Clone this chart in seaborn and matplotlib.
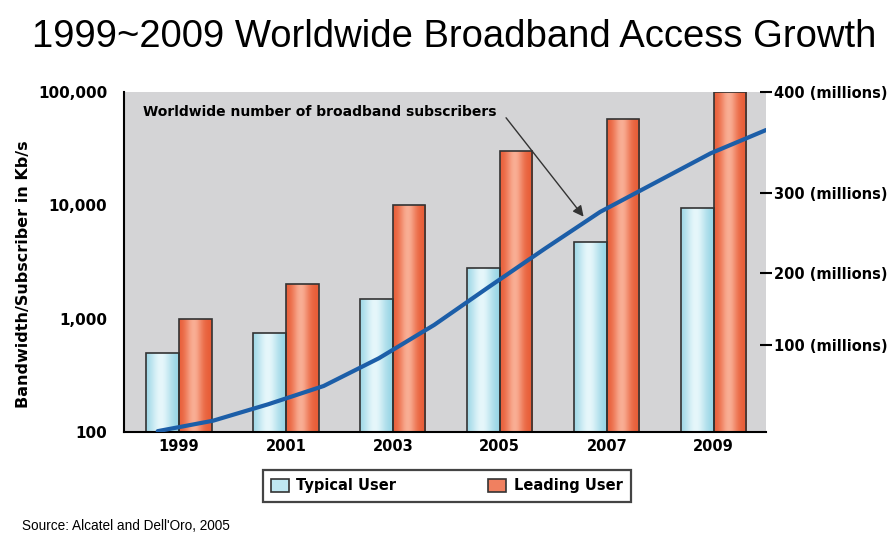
import numpy as np
import pandas as pd
import matplotlib
matplotlib.use("Agg")
import matplotlib.pyplot as plt
import matplotlib.colors as mcolors
from matplotlib.patches import Patch
from matplotlib.ticker import FixedLocator, FuncFormatter, NullLocator
import seaborn as sns

# ---- data -------------------------------------------------------------
years = ["1999", "2001", "2003", "2005", "2007", "2009"]
typical_kbps = [500, 750, 1500, 2800, 4700, 9500]
leading_kbps = [1000, 2000, 10000, 30000, 57000, 100000]

sub_years = [1999, 2000, 2001, 2002, 2003, 2004, 2005, 2006, 2007, 2008, 2009, 2010]
subscribers_m = [1, 13, 32, 53, 85, 128, 181, 230, 276, 310, 339, 362]

left_ticks = [100, 1000, 10000, 100000]
right_ticks = [100, 200, 300, 400]

# the millions scale on the right is printed with uneven spacing
right_scale_values = [0, 100, 200, 300, 400]
right_scale_heights = [0.0, 0.255, 0.468, 0.703, 1.0]

series_names = ["Typical User", "Leading User"]

df = pd.DataFrame({
    "year": years * 2,
    "kbps": typical_kbps + leading_kbps,
    "user": [series_names[0]] * len(years) + [series_names[1]] * len(years),
})

# ---- style ------------------------------------------------------------
sns.set_style("white")
plt.rcParams["font.family"] = ["Liberation Sans", "DejaVu Sans"]
plt.rcParams.update({"text.color": "black", "axes.labelcolor": "black",
                     "xtick.color": "black", "ytick.color": "black"})

BG = "#d4d4d6"
EDGE = "#333333"
TYP_EDGE, TYP_MID, TYP_CENTER = "#92d2e3", "#bfe8f2", "#e6f7fb"
LEAD_EDGE, LEAD_MID, LEAD_CENTER = "#e85c36", "#f08060", "#f9ae94"
CURVE = "#1c5ea8"
LABEL_FONT = ["DejaVu Sans"]

fig = plt.figure(figsize=(8.95, 5.37), dpi=100)
ax = fig.add_axes([0.1385, 0.1955, 0.7175, 0.634])
ax.set_facecolor(BG)

sns.barplot(data=df, x="year", y="kbps", hue="user", hue_order=series_names,
            palette=[TYP_MID, LEAD_MID], width=0.61, gap=0, dodge=True,
            edgecolor=EDGE, linewidth=1.2, legend=False, ax=ax, errorbar=None)

ax.set_yscale("log")
ax.set_ylim(100, 100000)
ax.set_xlim(-0.514, 5.49)
ax.yaxis.set_major_locator(FixedLocator(left_ticks))
ax.yaxis.set_minor_locator(NullLocator())
ax.yaxis.set_major_formatter(FuncFormatter(lambda v, _: f"{int(v):,}"))
ax.tick_params(axis="y", direction="out", length=8, width=1.3, color="black",
               pad=4, labelsize=11, labelcolor="black")
ax.tick_params(axis="x", length=0, pad=5, labelsize=10.5, labelcolor="black")
for lab in ax.get_yticklabels() + ax.get_xticklabels():
    lab.set_fontfamily(LABEL_FONT)
    lab.set_fontweight("bold")
ax.set_xlabel("")
ax.set_ylabel("Bandwidth/Subscriber in Kb/s", fontsize=11.5, fontweight="bold",
              family=LABEL_FONT, color="black")
ax.yaxis.set_label_coords(-0.145, 0.464)
for side in ("top", "right"):
    ax.spines[side].set_visible(False)
for side in ("left", "bottom"):
    ax.spines[side].set_color("black")
    ax.spines[side].set_linewidth(1.5)


# cylinder-like shading inside each bar
def shade(edge, center, width, n=96):
    e = np.array(mcolors.to_rgb(edge))
    c = np.array(mcolors.to_rgb(center))
    t = np.linspace(0, 1, n)
    w = np.exp(-((t - 0.45) / width) ** 2)
    return (e[None, :] * (1 - w[:, None]) + c[None, :] * w[:, None])[None, :, :]


ax.set_autoscale_on(False)
to_axes = ax.transData + ax.transAxes.inverted()
for container, (edge, center, spread) in zip(
        ax.containers, [(TYP_EDGE, TYP_CENTER, 0.34), (LEAD_EDGE, LEAD_CENTER, 0.26)]):
    grad = shade(edge, center, spread)
    for bar in container:
        x0 = bar.get_x()
        x1 = x0 + bar.get_width()
        fx0 = to_axes.transform((x0, 1000))[0]
        fx1 = to_axes.transform((x1, 1000))[0]
        img = ax.imshow(grad, extent=(fx0, fx1, 0, 1), transform=ax.transAxes,
                        aspect="auto", interpolation="bilinear",
                        zorder=bar.get_zorder() - 0.05)
        img.set_clip_path(bar)
        bar.set_facecolor("none")
ax.set_xlim(-0.514, 5.49)
ax.set_ylim(100, 100000)

# ---- subscriber curve on the right-hand millions scale ---------------
ax2 = fig.add_axes(ax.get_position(), frameon=False)
ax2.patch.set_visible(False)


def fwd(v):
    return np.interp(v, right_scale_values, right_scale_heights)


def inv(h):
    return np.interp(h, right_scale_heights, right_scale_values)


ax2.set_yscale("function", functions=(fwd, inv))
sns.lineplot(x=sub_years, y=subscribers_m, ax=ax2, color=CURVE, linewidth=3.0)
ax2.set_xlim(1998.39, 2010.0)
ax2.set_ylim(0, 400)
ax2.set_xticks([])
ax2.set_xlabel("")
ax2.yaxis.tick_right()
ax2.yaxis.set_major_locator(FixedLocator(right_ticks))
ax2.yaxis.set_minor_locator(NullLocator())
ax2.yaxis.set_major_formatter(FuncFormatter(lambda v, _: f"{int(v)} (millions)"))
ax2.tick_params(axis="y", direction="inout", length=9, width=1.5, color="black",
                pad=1, labelsize=10.5, labelcolor="black")
for lab in ax2.get_yticklabels():
    lab.set_fontfamily(LABEL_FONT)
    lab.set_fontweight("bold")

ax.text(0.03, 0.94, "Worldwide number of broadband subscribers",
        transform=ax.transAxes, va="center", ha="left", fontsize=10,
        fontweight="bold", family=LABEL_FONT, color="black", zorder=5)
ax2.annotate("", xy=(2006.7, 270), xycoords="data",
             xytext=(0.595, 0.923), textcoords="axes fraction",
             arrowprops=dict(arrowstyle="-|>", color="#333333", lw=1.0,
                             mutation_scale=16, shrinkA=0, shrinkB=0))

# ---- legend, title, source -------------------------------------------
handles = [Patch(facecolor=TYP_MID, edgecolor=EDGE, linewidth=1.2),
           Patch(facecolor=LEAD_MID, edgecolor=EDGE, linewidth=1.2)]
leg = fig.legend(handles, series_names, loc="center", bbox_to_anchor=(0.499, 0.095),
                 ncol=2, frameon=True, fancybox=False, framealpha=1,
                 edgecolor="#444444", columnspacing=6.3, handlelength=1.25,
                 handleheight=1.0, handletextpad=0.5, borderpad=0.55,
                 prop={"family": LABEL_FONT, "weight": "bold", "size": 10.5})
leg.get_frame().set_linewidth(1.6)

fig.text(0.508, 1 - 37 / 537, "1999~2009 Worldwide Broadband Access Growth",
         ha="center", va="center", fontsize=27.5, family="Liberation Sans",
         color="black")
fig.text(22 / 895, 1 - 526 / 537, "Source: Alcatel and Dell'Oro, 2005",
         ha="left", va="center", fontsize=9.8, family="Liberation Sans",
         color="black")

fig.savefig("out.png", dpi=100, facecolor="white")
